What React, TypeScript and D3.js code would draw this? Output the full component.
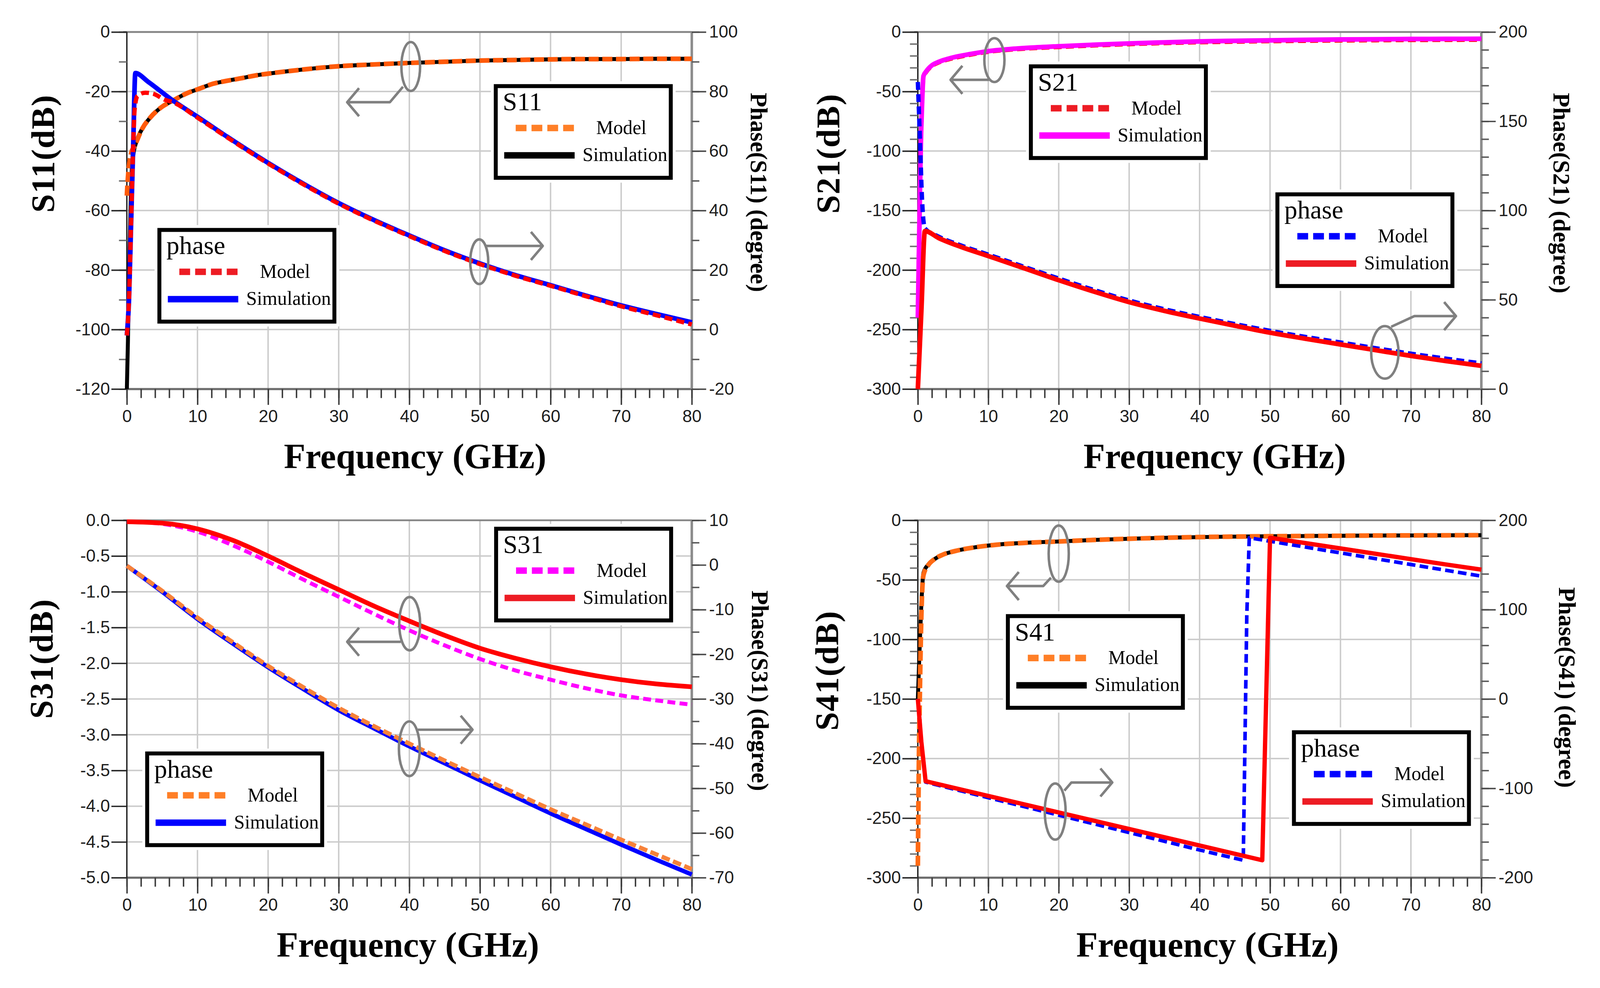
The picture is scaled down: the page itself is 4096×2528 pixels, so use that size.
import React, { useEffect, useRef } from "react"
import * as d3 from "d3"

// Layout is written in reference pixels (4450 x 2746) and scaled to the window
const SCALE = 0.92
const WIDTH = 4096
const HEIGHT = 2528

const SERIF = "'Liberation Serif', 'Times New Roman', serif"
const SANS = "'Liberation Sans', Arial, sans-serif"

// ---------- S11 (top left) ----------
const s11Freq = [0, 0.15, 0.3, 0.5, 0.7, 1.0, 1.3, 2.2, 3.3, 5, 6.5, 8.4, 10.2, 12.2, 14.2, 16.3, 18.2, 20, 22, 25, 30, 35, 40, 45, 50, 55, 60, 65, 70, 75, 80]
const s11Sim = [-120, -104, -84, -62, -46, -40, -37.2, -32.4, -28.8, -25.1, -23.1, -20.7, -19.1, -17.4, -16.4, -15.5, -14.6, -14.0, -13.4, -12.6, -11.5, -10.9, -10.4, -10.0, -9.6, -9.4, -9.2, -9.1, -9.1, -9.0, -9.0]
const s11Model = [-55, -49, -45, -42, -40, -38.8, -37.2, -32.4, -28.8, -25.1, -23.1, -20.7, -19.1, -17.4, -16.4, -15.5, -14.6, -14.0, -13.4, -12.6, -11.5, -10.9, -10.4, -10.0, -9.6, -9.4, -9.2, -9.1, -9.1, -9.0, -9.0]
const ph11SimFreq = [0, 0.3, 0.6, 0.9, 1.2, 3, 6.5, 10.2, 14.2, 20, 25, 30, 35, 40, 45, 50, 55, 60, 65, 70, 75, 80]
const ph11Sim = [-2, 10, 36, 62, 86.2, 83.3, 77, 71.2, 64.8, 56, 49, 42.5, 36.8, 31.6, 26.6, 22.2, 18.3, 14.9, 11.4, 8.1, 5.2, 2.4]
const ph11ModelFreq = [0, 0.3, 0.6, 0.9, 1.1, 1.5, 2.6, 3.8, 5.3, 6.5, 10.2, 14.2, 20, 25, 30, 35, 40, 45, 50, 55, 60, 65, 70, 75, 80]
const ph11Model = [-2, 10, 36, 62, 74, 78.5, 79.6, 79.2, 77.3, 76.4, 70.9, 64.6, 55.8, 48.8, 42.3, 36.6, 31.4, 26.4, 22.0, 18.1, 14.7, 11.2, 7.8, 4.8, 1.7]

// ---------- S21 (top right) ----------
const s21Freq = [0, 0.2, 0.4, 0.6, 0.8, 1.2, 2, 3, 4, 5, 7.5, 10, 13, 16, 20, 25, 30, 35, 40, 45, 50, 55, 60, 65, 70, 75, 80]
const s21Sim = [-240, -170, -100, -60, -37, -33, -28, -25, -23, -21.4, -18.5, -16.1, -14.4, -13.2, -12.0, -10.7, -9.6, -8.7, -7.9, -7.4, -7.0, -6.6, -6.3, -6.1, -5.9, -5.8, -5.7]
const s21Model = [-240, -170, -100, -60, -37.5, -33.5, -28.5, -25.5, -23.5, -22, -19, -16.6, -14.9, -13.7, -12.6, -11.3, -10.2, -9.3, -8.6, -8.1, -7.7, -7.4, -7.1, -6.9, -6.7, -6.6, -6.5]
const ph21SimFreq = [0, 0.5, 1.0, 3, 6, 10, 15, 20, 25, 30, 35, 40, 45, 50, 55, 60, 65, 70, 75, 80]
const ph21Sim = [0, 44, 88.5, 84.5, 79.8, 74.5, 67.8, 61, 54.6, 48.7, 43.8, 39.5, 35.5, 31.6, 28.2, 25, 21.8, 18.6, 15.7, 13]
const ph21ModelFreq = [0, 0.3, 0.6, 1.0, 3, 6, 10, 15, 20, 25, 30, 35, 40, 45, 50, 55, 60, 65, 70, 75, 80]
const ph21Model = [172, 140, 106, 90, 85.3, 80.6, 75.3, 68.6, 61.9, 55.5, 49.6, 44.7, 40.4, 36.4, 32.6, 29.2, 26.1, 22.9, 19.8, 17, 14.4]

// ---------- S31 (bottom left) ----------
const s31Freq = [0, 5, 10, 15, 20, 25, 30, 35, 40, 45, 50, 55, 60, 65, 70, 75, 80]
const s31Sim = [-0.02, -0.04, -0.12, -0.28, -0.5, -0.74, -0.97, -1.2, -1.41, -1.61, -1.79, -1.93, -2.05, -2.15, -2.23, -2.29, -2.33]
const s31Model = [-0.02, -0.05, -0.16, -0.35, -0.58, -0.83, -1.07, -1.31, -1.54, -1.75, -1.94, -2.1, -2.23, -2.35, -2.45, -2.52, -2.58]
const ph31Sim = [-0.2, -6.0, -12.1, -17.6, -22.9, -27.8, -32.5, -36.6, -40.6, -44.4, -48.2, -51.9, -55.6, -59.1, -62.6, -66.0, -69.3]
const ph31Model = [-0.2, -5.8, -11.8, -17.3, -22.6, -27.4, -32.0, -36.1, -40.0, -43.8, -47.5, -51.1, -54.7, -58.1, -61.5, -64.8, -68.1]

// ---------- S41 (bottom right) ----------
const s41Freq = [0, 0.15, 0.3, 0.5, 0.8, 1.5, 2.4, 3.5, 5.3, 8, 11.2, 15, 20, 25, 30, 35, 40, 45, 50, 55, 60, 65, 70, 75, 80]
const s41Sim = [-150, -125, -100, -70, -44, -37, -32.5, -29, -25.8, -22.8, -20.5, -19, -17.8, -16.5, -15.5, -14.7, -14.1, -13.7, -13.4, -13.2, -13.0, -12.8, -12.7, -12.6, -12.5]
const s41Model = [-290, -200, -140, -80, -46, -37.5, -32.5, -29, -25.8, -22.8, -20.5, -19, -17.8, -16.5, -15.5, -14.7, -14.1, -13.7, -13.4, -13.2, -13.0, -12.8, -12.7, -12.6, -12.5]
const ph41SimFreq = [0, 0.5, 1.1, 10, 20, 30, 40, 48.9, 50, 55, 60, 65, 70, 75, 80]
const ph41Sim = [0, -48, -92, -108.5, -127, -145.5, -164, -180.5, 180.4, 174.5, 168.5, 162.5, 156.5, 150.5, 144.8]
const ph41ModelFreq = [0, 0.5, 1.1, 10, 20, 30, 40, 46.2, 46.7, 47.05, 55, 60, 65, 70, 75, 80]
const ph41Model = [0, -48, -93, -110.5, -130, -149.5, -169, -180.5, 93, 180.4, 170, 163.5, 157, 150.5, 144, 137.5]

const freqTicks = d3.range(0, 81, 10)
const freqMinor = d3.range(0, 81, 2)

const ORANGE = "#ff7f27"
const RED = "#ed1c24"
const BLUE = "#0000ff"
const MAGENTA = "#ff00ff"
const BLACK = "#000000"

const panels = [
  {
    left: 353, top: 89, width: 1572, height: 993,
    leftAxis: { domain: [-120, 0], major: 20, minor: 10, digits: 0 },
    rightAxis: { domain: [-20, 100], major: 20, minor: 10, digits: 0 },
    yTitle: "S11(dB)", yTitlePos: [-225, 338],
    rTitle: "Phase(S11) (degree)", rTitlePos: [180, 446],
    xTitleDx: 802,
    series: [
      { freq: s11Freq, values: s11Sim, axis: "left", color: BLACK, width: 11 },
      { freq: s11Freq, values: s11Model, axis: "left", color: "#ff5a0a", width: 13, dash: "28 10" },
      { freq: ph11SimFreq, values: ph11Sim, axis: "right", color: BLUE, width: 13 },
      { freq: ph11ModelFreq, values: ph11Model, axis: "right", color: "#ff0000", width: 12, dash: "22 12" },
    ],
    legends: [
      { dx: 1021, dy: 145, title: "S11", model: ORANGE, sim: BLACK },
      { dx: 85, dy: 545, title: "phase", model: RED, sim: BLUE },
    ],
    notes: [
      { cx: 40.2, cy: -11.6, rx: 26, ry: 68, path: [[39.1, -18.4], [37.25, -23.6], [31.2, -23.6]], dir: "left" },
      { cx: 49.9, cy: -77.2, rx: 25, ry: 62, path: [[50.8, -71.9], [58.9, -71.9]], dir: "right" },
    ],
  },
  {
    left: 2554, top: 89, width: 1568, height: 993,
    leftAxis: { domain: [-300, 0], major: 50, minor: 10, digits: 0 },
    rightAxis: { domain: [0, 200], major: 50, minor: 10, digits: 0 },
    yTitle: "S21(dB)", yTitlePos: [-241, 338],
    rTitle: "Phase(S21) (degree)", rTitlePos: [217, 448],
    xTitleDx: 826,
    series: [
      { freq: s21Freq, values: s21Model, axis: "left", color: "#ff0000", width: 12, dash: "22 12" },
      { freq: s21Freq, values: s21Sim, axis: "left", color: MAGENTA, width: 13 },
      { freq: ph21ModelFreq, values: ph21Model, axis: "right", color: BLUE, width: 12, dash: "22 12" },
      { freq: ph21SimFreq, values: ph21Sim, axis: "right", color: "#ff0000", width: 13 },
    ],
    legends: [
      { dx: 309, dy: 90, title: "S21", model: RED, sim: MAGENTA },
      { dx: 995, dy: 446, title: "phase", model: BLUE, sim: RED },
    ],
    notes: [
      { cx: 10.87, cy: -23.6, rx: 28, ry: 61, path: [[10.1, -40.2], [4.64, -40.2]], dir: "left" },
      { cx: 66.3, cy: -269.2, rx: 38, ry: 73, path: [[67.2, -247.7], [70.5, -238.7], [76.4, -238.7]], dir: "right" },
    ],
  },
  {
    left: 353, top: 1447, width: 1572, height: 994,
    leftAxis: { domain: [-5, 0], major: 0.5, minor: 0, digits: 1 },
    rightAxis: { domain: [-70, 10], major: 10, minor: 5, digits: 0 },
    yTitle: "S31(dB)", yTitlePos: [-229, 385],
    rTitle: "Phase(S31) (degree)", rTitlePos: [183, 474],
    xTitleDx: 782,
    series: [
      { freq: s31Freq, values: s31Model, axis: "left", color: MAGENTA, width: 11, dash: "22 12" },
      { freq: s31Freq, values: s31Sim, axis: "left", color: "#ff0000", width: 13 },
      { freq: s31Freq, values: ph31Sim, axis: "right", color: BLUE, width: 12 },
      { freq: s31Freq, values: ph31Model, axis: "right", color: "#f7823a", width: 12, dash: "24 10" },
    ],
    legends: [
      { dx: 1022, dy: 18, title: "S31", model: MAGENTA, sim: RED },
      { dx: 51, dy: 643, title: "phase", model: ORANGE, sim: BLUE },
    ],
    notes: [
      { cx: 40.05, cy: -1.447, rx: 29, ry: 74, path: [[38.8, -1.7], [31.2, -1.7]], dir: "left" },
      { cx: 40.0, cy: -3.196, rx: 29, ry: 76, path: [[41.2, -2.93], [48.95, -2.93]], dir: "right" },
    ],
  },
  {
    left: 2554, top: 1447, width: 1568, height: 994,
    leftAxis: { domain: [-300, 0], major: 50, minor: 10, digits: 0 },
    rightAxis: { domain: [-200, 200], major: 100, minor: 20, digits: 0 },
    yTitle: "S41(dB)", yTitlePos: [-244, 418],
    rTitle: "Phase(S41) (degree)", rTitlePos: [232, 465],
    xTitleDx: 806,
    series: [
      { freq: s41Freq, values: s41Sim, axis: "left", color: BLACK, width: 11 },
      { freq: s41Freq, values: s41Model, axis: "left", color: "#ff6a14", width: 13, dash: "28 10" },
      { freq: ph41ModelFreq, values: ph41Model, axis: "right", color: BLUE, width: 10, dash: "24 12", linear: true },
      { freq: ph41SimFreq, values: ph41Sim, axis: "right", color: "#ff0000", width: 12, linear: true },
    ],
    legends: [
      { dx: 245, dy: 261, title: "S41", model: ORANGE, sim: BLACK },
      { dx: 1041, dy: 584, title: "phase", model: BLUE, sim: RED },
    ],
    notes: [
      { cx: 20.0, cy: -28.0, rx: 28, ry: 78, path: [[18.9, -48.2], [17.8, -55.2], [12.65, -55.2]], dir: "left" },
      { cx: 19.5, cy: -244.5, rx: 29, ry: 78, path: [[20.8, -227], [21.8, -220.1], [27.6, -220.1]], dir: "right" },
    ],
  },
]

const LEGEND_W = 498
const LEGEND_H = 266

function steps(domain: number[], step: number) {
  const n = Math.round((domain[1] - domain[0]) / step)
  return d3.range(n + 1).map((i) => +(domain[0] + i * step).toFixed(6))
}

function styleAxis(sel: any, color: string) {
  sel.select(".domain").remove()
  sel.attr("font-size", null).attr("font-family", null)
  sel.selectAll(".tick line").attr("stroke", color).attr("stroke-width", 4)
  sel.selectAll(".tick text").attr("fill", "#1e1e1e").attr("font-family", SANS).attr("font-size", 48)
}

function drawPanel(root: any, p: any) {
  const g = root.append("g").attr("transform", `translate(${p.left},${p.top})`)
  const x = d3.scaleLinear().domain([0, 80]).range([0, p.width])
  const yL = d3.scaleLinear().domain(p.leftAxis.domain).range([p.height, 0])
  const yR = d3.scaleLinear().domain(p.rightAxis.domain).range([p.height, 0])
  const leftMajor = steps(p.leftAxis.domain, p.leftAxis.major)
  const rightMajor = steps(p.rightAxis.domain, p.rightAxis.major)

  // grid
  g.append("g")
    .selectAll("line")
    .data(freqTicks.slice(1, -1))
    .join("line")
    .attr("x1", (d: number) => x(d))
    .attr("x2", (d: number) => x(d))
    .attr("y1", 0)
    .attr("y2", p.height)
    .attr("stroke", "#cbcbcb")
    .attr("stroke-width", 4)
  g.append("g")
    .selectAll("line")
    .data(leftMajor.slice(1, -1))
    .join("line")
    .attr("x1", 0)
    .attr("x2", p.width)
    .attr("y1", (d: number) => yL(d))
    .attr("y2", (d: number) => yL(d))
    .attr("stroke", "#cbcbcb")
    .attr("stroke-width", 4)

  // frame
  g.append("line").attr("x1", -10).attr("x2", p.width).attr("y1", 0).attr("y2", 0).attr("stroke", "#858585").attr("stroke-width", 5)
  g.append("line").attr("x1", 0).attr("x2", p.width).attr("y1", p.height).attr("y2", p.height).attr("stroke", "#6e6e6e").attr("stroke-width", 6)
  g.append("line").attr("x1", 0).attr("x2", 0).attr("y1", 0).attr("y2", p.height).attr("stroke", "#111").attr("stroke-width", 3.5)
  g.append("line").attr("x1", p.width).attr("x2", p.width).attr("y1", 0).attr("y2", p.height).attr("stroke", "#8c8c8c").attr("stroke-width", 7)

  // bottom axis
  g.append("g")
    .attr("transform", `translate(0,${p.height})`)
    .call(d3.axisBottom(x).tickValues(freqMinor).tickSize(25).tickFormat(() => ""))
    .call(styleAxis, "#3a3a3a")
  g.append("g")
    .attr("transform", `translate(0,${p.height})`)
    .call(d3.axisBottom(x).tickValues(freqTicks).tickSize(44).tickPadding(14).tickFormat((d: any) => String(d)))
    .call(styleAxis, "#3a3a3a")

  // left axis
  if (p.leftAxis.minor) {
    g.append("g")
      .call(d3.axisLeft(yL).tickValues(steps(p.leftAxis.domain, p.leftAxis.minor)).tickSize(22).tickFormat(() => ""))
      .call(styleAxis, "#707070")
  }
  g.append("g")
    .call(
      d3.axisLeft(yL).tickValues(leftMajor).tickSize(43).tickPadding(4)
        .tickFormat((d: any) => (+d).toFixed(p.leftAxis.digits)),
    )
    .call(styleAxis, "#2a2a2a")

  // right axis
  g.append("g")
    .attr("transform", `translate(${p.width},0)`)
    .call(d3.axisRight(yR).tickValues(steps(p.rightAxis.domain, p.rightAxis.minor)).tickSize(21).tickFormat(() => ""))
    .call(styleAxis, "#5a5a5a")
  g.append("g")
    .attr("transform", `translate(${p.width},0)`)
    .call(
      d3.axisRight(yR).tickValues(rightMajor).tickSize(40).tickPadding(8)
        .tickFormat((d: any) => (+d).toFixed(p.rightAxis.digits)),
    )
    .call(styleAxis, "#4a4a4a")

  // curves
  p.series.forEach((s: any) => {
    const y = s.axis === "left" ? yL : yR
    const line = d3
      .line<[number, number]>()
      .x((d) => x(d[0]))
      .y((d) => y(d[1]))
      .curve(s.linear ? d3.curveLinear : d3.curveMonotoneX)
    g.append("path")
      .datum(d3.zip(s.freq, s.values))
      .attr("d", line)
      .attr("fill", "none")
      .attr("stroke", s.color)
      .attr("stroke-width", s.width)
      .attr("stroke-linejoin", "round")
      .attr("stroke-dasharray", s.dash || null)
  })

  // legends
  p.legends.forEach((L: any) => {
    const lg = g.append("g").attr("transform", `translate(${L.dx},${L.dy})`)
    lg.append("rect").attr("x", -8).attr("y", -8).attr("width", LEGEND_W + 16).attr("height", LEGEND_H + 16).attr("fill", "#fff")
    lg.append("rect")
      .attr("x", 5.5).attr("y", 5.5)
      .attr("width", LEGEND_W - 11).attr("height", LEGEND_H - 11)
      .attr("fill", "#fff").attr("stroke", "#000").attr("stroke-width", 11)
    lg.append("text").attr("x", 25).attr("y", 73).attr("font-family", SERIF).attr("font-size", 72).attr("fill", "#000").text(L.title)
    lg.append("line").attr("x1", 61).attr("x2", 225).attr("y1", 122).attr("y2", 122)
      .attr("stroke", L.model).attr("stroke-width", 18).attr("stroke-dasharray", "30 14")
    lg.append("text").attr("x", 285).attr("y", 139).attr("font-family", SERIF).attr("font-size", 55)
      .attr("textLength", 140).attr("lengthAdjust", "spacingAndGlyphs").text("Model")
    lg.append("line").attr("x1", 29).attr("x2", 225).attr("y1", 198).attr("y2", 198)
      .attr("stroke", L.sim).attr("stroke-width", 18)
    lg.append("text").attr("x", 247).attr("y", 214).attr("font-family", SERIF).attr("font-size", 55)
      .attr("textLength", 236).attr("lengthAdjust", "spacingAndGlyphs").text("Simulation")
  })

  // gray ellipse + arrow annotations
  const nl = g.append("g").attr("fill", "none").attr("stroke", "#808080").attr("stroke-width", 7).attr("stroke-linejoin", "round")
  p.notes.forEach((n: any) => {
    nl.append("ellipse").attr("cx", x(n.cx)).attr("cy", yL(n.cy)).attr("rx", n.rx).attr("ry", n.ry)
    const pts = n.path.map(([f, v]: number[]) => [x(f), yL(v)] as [number, number])
    const [tx, ty] = pts[pts.length - 1]
    const k = n.dir === "left" ? 1 : -1
    nl.append("path").attr("d", d3.line()(pts))
    nl.append("path").attr("d", d3.line()([[tx + k * 33, ty - 39], [tx, ty], [tx + k * 33, ty + 39]]))
  })

  // titles
  g.append("text")
    .attr("transform", `translate(${p.yTitlePos[0] + 23},${p.yTitlePos[1]}) rotate(-90)`)
    .attr("text-anchor", "middle")
    .attr("font-family", SERIF)
    .attr("font-weight", "bold")
    .attr("font-size", 93)
    .attr("letter-spacing", 2)
    .text(p.yTitle)
  g.append("text")
    .attr("transform", `translate(${p.width + p.rTitlePos[0] - 16},${p.rTitlePos[1]}) rotate(90)`)
    .attr("text-anchor", "middle")
    .attr("font-family", SERIF)
    .attr("font-weight", "bold")
    .attr("font-size", 66)
    .text(p.rTitle)
  g.append("text")
    .attr("x", p.xTitleDx)
    .attr("y", p.height + 220)
    .attr("text-anchor", "middle")
    .attr("font-family", SERIF)
    .attr("font-weight", "bold")
    .attr("font-size", 98)
    .text("Frequency (GHz)")
}

export default function App() {
  const svgRef = useRef<SVGSVGElement>(null)

  useEffect(() => {
    if (!svgRef.current) return
    const svg = d3.select(svgRef.current)
    svg.selectAll("*").remove()
    svg.append("rect").attr("width", WIDTH).attr("height", HEIGHT).attr("fill", "#fff")
    const root = svg.append("g").attr("transform", `scale(${SCALE})`)
    panels.forEach((p) => drawPanel(root, p))
  }, [])

  return (
    <svg
      ref={svgRef}
      width={WIDTH}
      height={HEIGHT}
      style={{ position: "absolute", left: 0, top: 0, display: "block" }}
    />
  )
}
